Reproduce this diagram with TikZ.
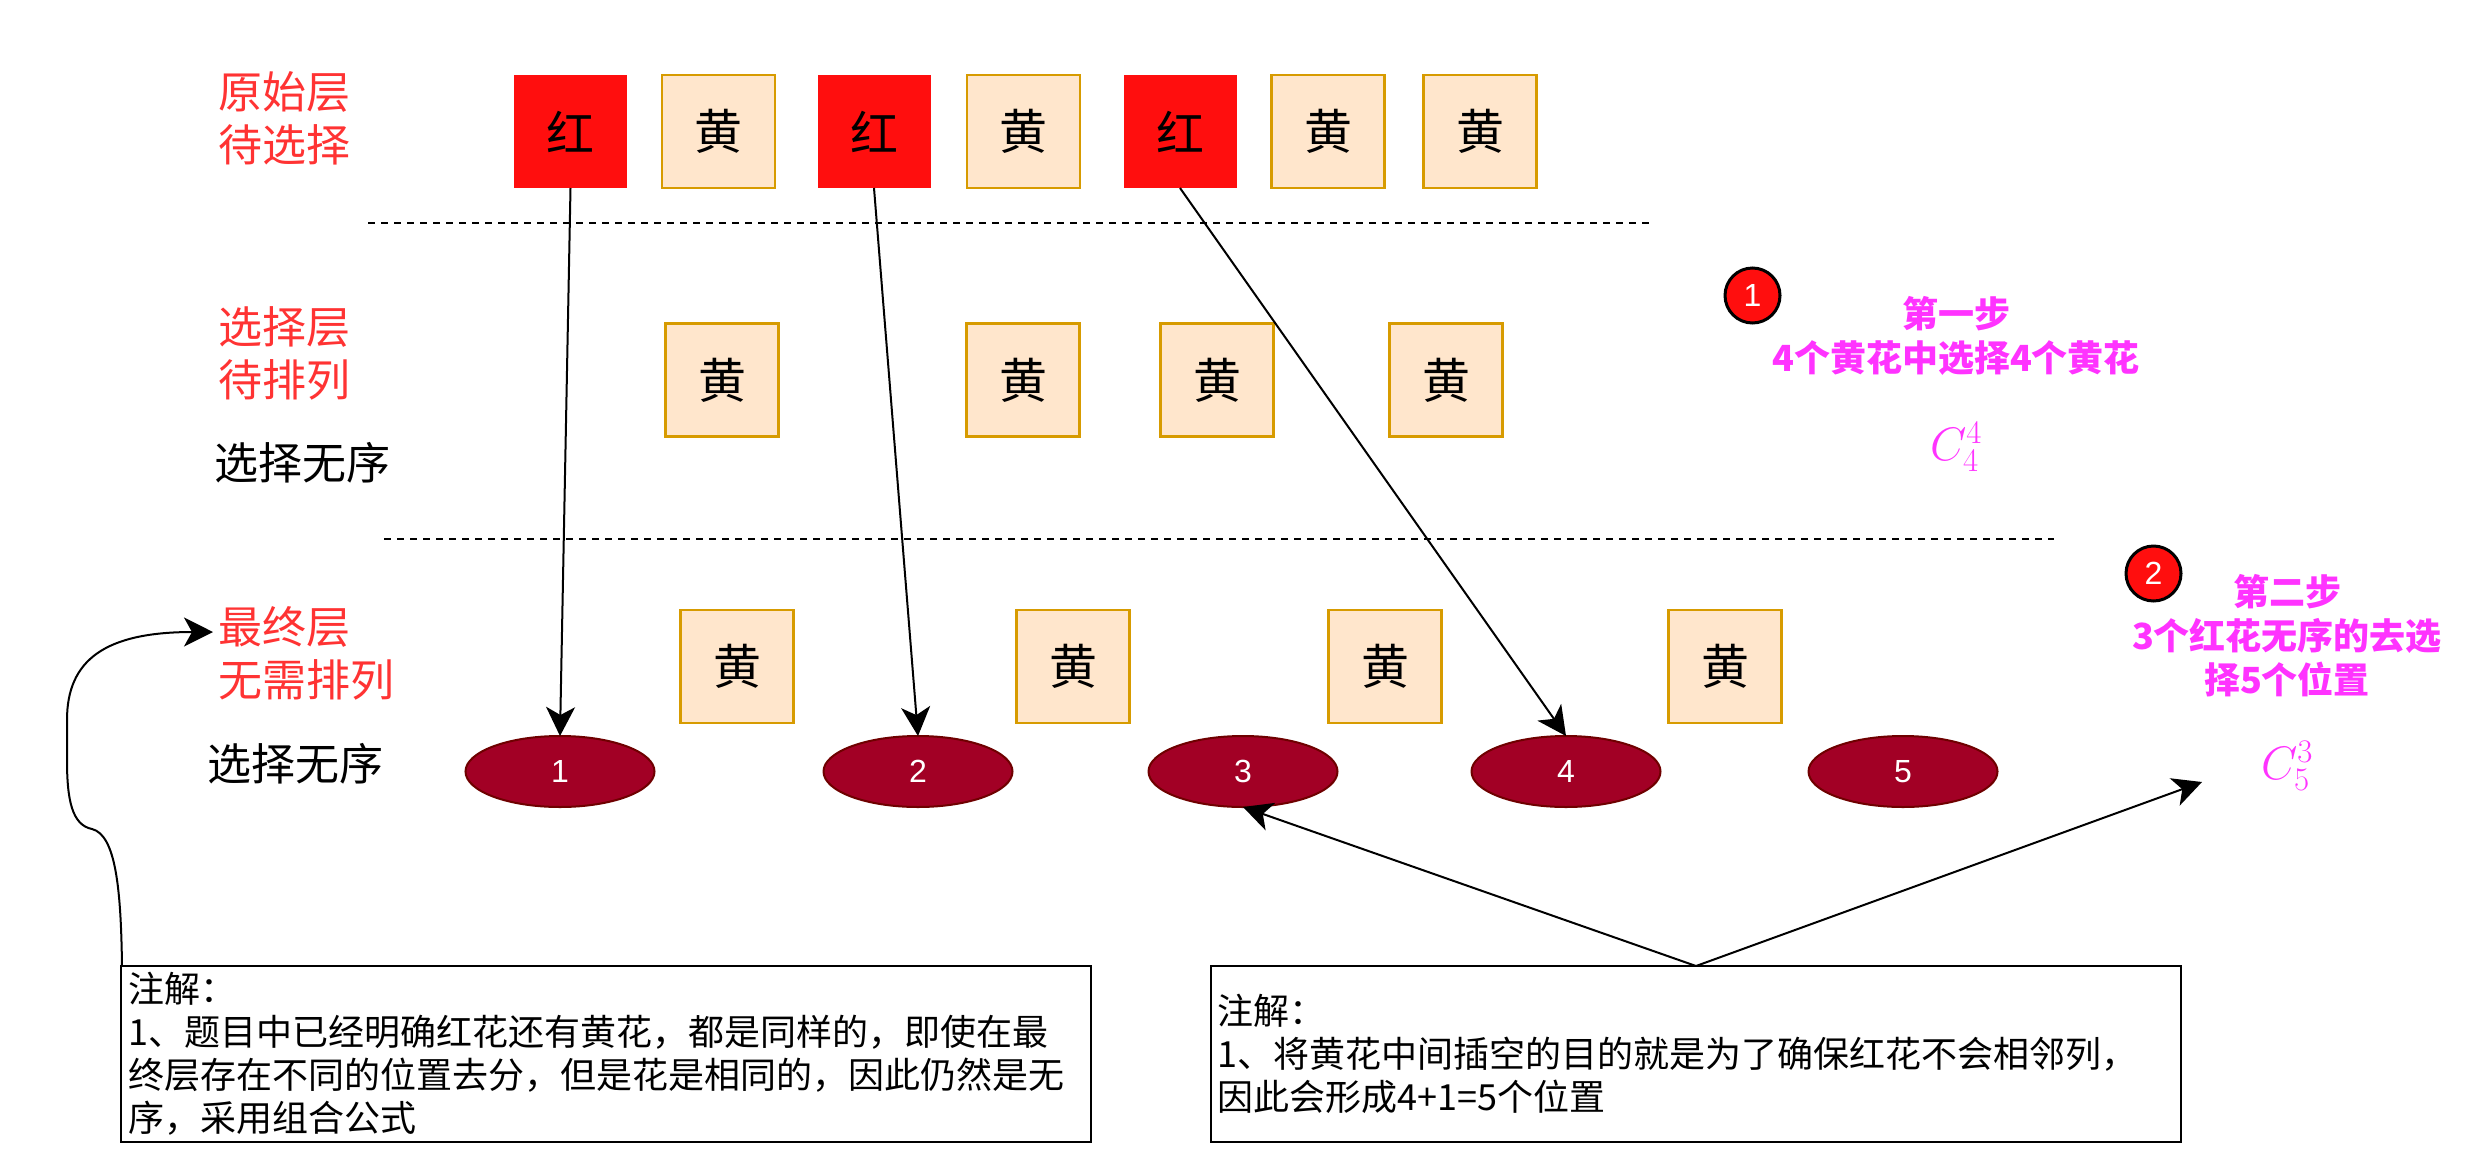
\RequirePackage{fix-cm}
\documentclass[tikz,border=0pt]{standalone}
\usepackage[no-math]{fontspec}
\setmainfont{Noto Sans CJK SC}
\newfontfamily\lsans{Liberation Sans}
\usetikzlibrary{arrows.meta,shapes.geometric}
\definecolor{redbox}{RGB}{255,14,14}
\definecolor{ybfill}{HTML}{FFE6CC}
\definecolor{ybdraw}{HTML}{D79B00}
\definecolor{elfill}{HTML}{A20025}
\definecolor{eldraw}{HTML}{6F0000}
\definecolor{lblred}{HTML}{FF3333}
\definecolor{mag}{HTML}{FF33FF}
\begin{document}
\begin{tikzpicture}[x=1pt,y=-1pt,
  flower/.style={minimum width=113pt,minimum height=113pt,inner sep=0pt,outer sep=0pt,font=\fontsize{48}{58}\selectfont},
  redfl/.style={flower,fill=redbox},
  yelfl/.style={flower,fill=ybfill,draw=ybdraw,line width=2.5pt},
  slot/.style={ellipse,minimum width=189pt,minimum height=71pt,inner sep=0pt,outer sep=0pt,fill=elfill,draw=eldraw,line width=2pt,text=white,font=\lsans\fontsize{32}{38}\selectfont},
  layer/.style={anchor=west,align=left,text=lblred,inner sep=0pt,font=\fontsize{44}{53}\selectfont},
  plainlbl/.style={anchor=west,inner sep=0pt,font=\fontsize{44}{53}\selectfont},
  stepnote/.style={align=center,text=mag,inner sep=0pt,font=\bfseries\fontsize{36}{44}\selectfont},
  formula/.style={text=mag,inner sep=0pt,font=\fontsize{47}{56}\selectfont},
  badge/.style={circle,minimum size=55pt,inner sep=0pt,fill=redbox,draw=black,line width=3pt,text=white,font=\lsans\fontsize{32}{38}\selectfont},
  notebox/.style={draw=black,line width=2pt,minimum width=970pt,minimum height=176pt,inner sep=0pt,outer sep=0pt},
  notetext/.style={anchor=west,align=left,inner sep=0pt,font=\fontsize{36}{43}\selectfont},
  conn/.style={line width=2pt,-{Stealth[length=29pt,width=29pt,inset=8pt]}},
  sepline/.style={line width=2pt,dash pattern=on 7pt off 6pt}
]
\fill[white] (0,0) rectangle (2478,1170);
\path[use as bounding box] (0,0) rectangle (2478,1170);

% layer labels
\node[layer] (l1) at (218,118.5) {原始层\\待选择};
\node[layer] (l2) at (218,353) {选择层\\待排列};
\node[layer] (l3) at (218,653) {最终层\\无需排列};
\node[plainlbl] (s1) at (214,463) {选择无序};
\node[plainlbl] (s2) at (207,764) {选择无序};

% separators
\draw[sepline] (368,223) -- (1652,223);
\draw[sepline] (384,539) -- (2054,539);

% top row
\node[redfl] (r1) at (570.5,131.5) {红};
\node[yelfl] (t1) at (718.5,131.5) {黄};
\node[redfl] (r2) at (874,131.5) {红};
\node[yelfl] (t2) at (1023.5,131.5) {黄};
\node[redfl] (r3) at (1180,131.5) {红};
\node[yelfl] (t3) at (1328,131.5) {黄};
\node[yelfl] (t4) at (1480,131.5) {黄};

% middle row
\node[yelfl] (m1) at (722,380) {黄};
\node[yelfl] (m2) at (1023,380) {黄};
\node[yelfl] (m3) at (1217,380) {黄};
\node[yelfl] (m4) at (1446,380) {黄};

% bottom row
\node[yelfl] (b1) at (737,666.5) {黄};
\node[yelfl] (b2) at (1073,666.5) {黄};
\node[yelfl] (b3) at (1385,666.5) {黄};
\node[yelfl] (b4) at (1725,666.5) {黄};

\node[slot] (e1) at (560,771.5) {1};
\node[slot] (e2) at (918,771.5) {2};
\node[slot] (e3) at (1243,771.5) {3};
\node[slot] (e4) at (1566,771.5) {4};
\node[slot] (e5) at (1903,771.5) {5};

% steps
\node[badge] (g1) at (1752.5,295.5) {1};
\node[stepnote] (st1) at (1956,336) {第一步\\4个黄花中选择4个黄花};
\node[formula] (f1) at (1956,447) {$C_4^4$};
\node[badge] (g2) at (2153.5,573.5) {2};
\node[stepnote] (st2) at (2287,635.5) {第二步\\3个红花无序的去选\\择5个位置};
\node[formula] (f2) at (2287,766) {$C_5^3$};

% notes
\node[notebox] (n1) at (606,1054) {};
\node[notetext] at ([xshift=7pt]n1.west) {注解：\\1、题目中已经明确红花还有黄花，都是同样的，即使在最\\终层存在不同的位置去分，但是花是相同的，因此仍然是无\\序，采用组合公式};
\node[notebox] (n2) at (1696,1054) {};
\node[notetext] at ([xshift=6pt]n2.west) {注解：\\1、将黄花中间插空的目的就是为了确保红花不会相邻列，\\因此会形成4+1=5个位置};

% connectors
\draw[conn] (r1.south) -- (e1.north);
\draw[conn] (r2.south) -- (e2.north);
\draw[conn] (r3.south) -- (e4.north);
\draw[conn] (n2.north) -- (e3.south);
\coordinate (tipR) at (2202,782);
\draw[conn] (n2.north) -- (tipR);
\coordinate (tipL) at (213,632);
\draw[conn] ([xshift=1pt]n1.north west) .. controls (121,890) and (116,835) .. (92,829)
  .. controls (72,825) and (67,800) .. (67,760) -- (67,720)
  .. controls (67,660) and (105,632) .. (tipL);
\end{tikzpicture}
\end{document}
